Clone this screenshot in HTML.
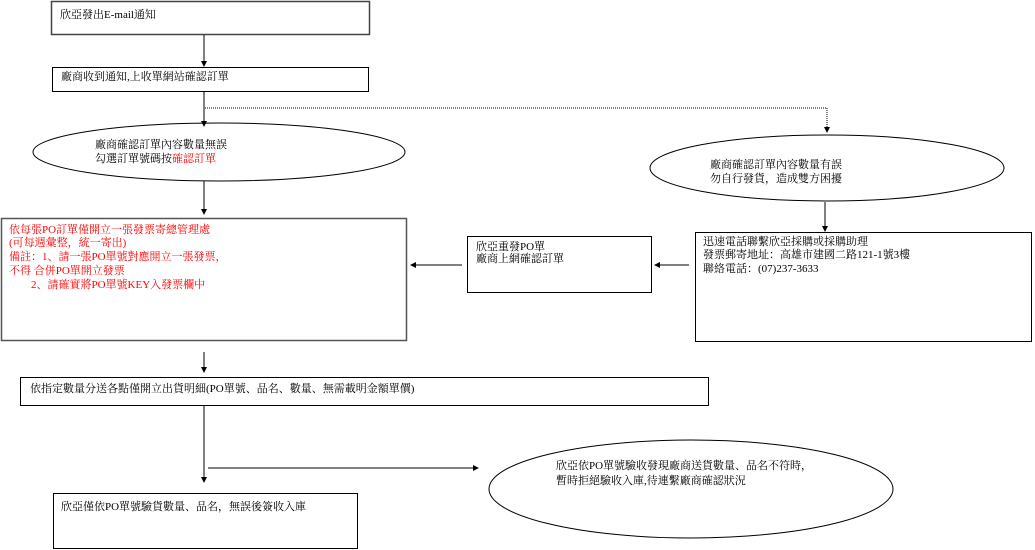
<!DOCTYPE html>
<html><head><meta charset="utf-8"><style>
html,body{margin:0;padding:0;background:#fff;}
svg{display:block;}
text{font-family:"Liberation Serif","Noto Serif CJK SC","Noto Sans CJK TC",serif;font-size:11px;fill:#000;}
.r{fill:#ff0000;}
</style></head><body>
<svg width="1035" height="550" viewBox="0 0 1035 550" xmlns="http://www.w3.org/2000/svg">
<defs><marker id="a" markerWidth="6" markerHeight="6" refX="5" refY="3" orient="auto" markerUnits="userSpaceOnUse"><path d="M0,0 L6,3 L0,6 z" fill="#000"/></marker></defs>
<g fill="#fff" stroke="#000" stroke-width="1">
<rect x="51.5" y="1.5" width="318" height="33" stroke="#444" stroke-width="1.5"/>
<rect x="52.5" y="67.5" width="316" height="24"/>
<ellipse cx="219" cy="152" rx="186" ry="29"/>
<rect x="1.5" y="218.5" width="405" height="122" stroke="#555" stroke-width="1.5"/>
<ellipse cx="827" cy="168" rx="177" ry="33"/>
<rect x="695.5" y="232.5" width="336" height="109"/>
<rect x="467.5" y="236.5" width="184" height="56"/>
<rect x="20.5" y="377.5" width="688" height="28"/>
<rect x="53.5" y="493.5" width="304" height="55"/>
<ellipse cx="691" cy="489" rx="202" ry="49"/>
</g>
<g stroke="#000" stroke-width="1" fill="none">
<line x1="204" y1="35" x2="204" y2="66" marker-end="url(#a)"/>
<line x1="204" y1="92" x2="204" y2="126" marker-end="url(#a)"/>
<polyline points="205,108 827,108 827,132" stroke-dasharray="1,1" marker-end="url(#a)"/>
<line x1="204" y1="181" x2="204" y2="214" marker-end="url(#a)"/>
<line x1="825" y1="202" x2="825" y2="231" marker-end="url(#a)"/>
<line x1="689" y1="265" x2="655" y2="265" marker-end="url(#a)"/>
<line x1="462" y1="265" x2="411" y2="265" marker-end="url(#a)"/>
<line x1="204" y1="352" x2="204" y2="372" marker-end="url(#a)"/>
<line x1="204" y1="406" x2="204" y2="482" marker-end="url(#a)"/>
<line x1="208" y1="468" x2="478" y2="468" marker-end="url(#a)"/>
</g>
<text x="60" y="18">欣亞發出E-mail通知</text>
<text x="61" y="80">廠商收到通知,上收單網站確認訂單</text>
<text x="95" y="148">廠商確認訂單內容數量無誤</text>
<text x="95" y="162">勾選訂單號碼按<tspan class="r">確認訂單</tspan></text>
<text x="9" y="233" class="r">依每張PO訂單僅開立一張發票寄總管理處</text>
<text x="9" y="246" class="r">(可每週彙整，統一寄出)</text>
<text x="9" y="260" class="r">備註：1、請一張PO單號對應開立一張發票，</text>
<text x="9" y="274" class="r">不得 合併PO單開立發票</text>
<text x="31" y="288" class="r">2、請確實將PO單號KEY入發票欄中</text>
<text x="710" y="168">廠商確認訂單內容數量有誤</text>
<text x="710" y="182">勿自行發貨，造成雙方困擾</text>
<text x="703" y="245">迅速電話聯繫欣亞採購或採購助理</text>
<text x="703" y="258">發票郵寄地址：高雄市建國二路121-1號3樓</text>
<text x="703" y="272">聯絡電話：(07)237-3633</text>
<text x="476" y="250">欣亞重發PO單</text>
<text x="476" y="262">廠商上網確認訂單</text>
<text x="30" y="392">依指定數量分送各點僅開立出貨明細(PO單號、品名、數量、無需載明金額單價)</text>
<text x="61" y="510">欣亞僅依PO單號驗貨數量、品名，無誤後簽收入庫</text>
<text x="556" y="469">欣亞依PO單號驗收發現廠商送貨數量、品名不符時，</text>
<text x="556" y="484">暫時拒絕驗收入庫,待連繫廠商確認狀況</text>
</svg>
</body></html>
